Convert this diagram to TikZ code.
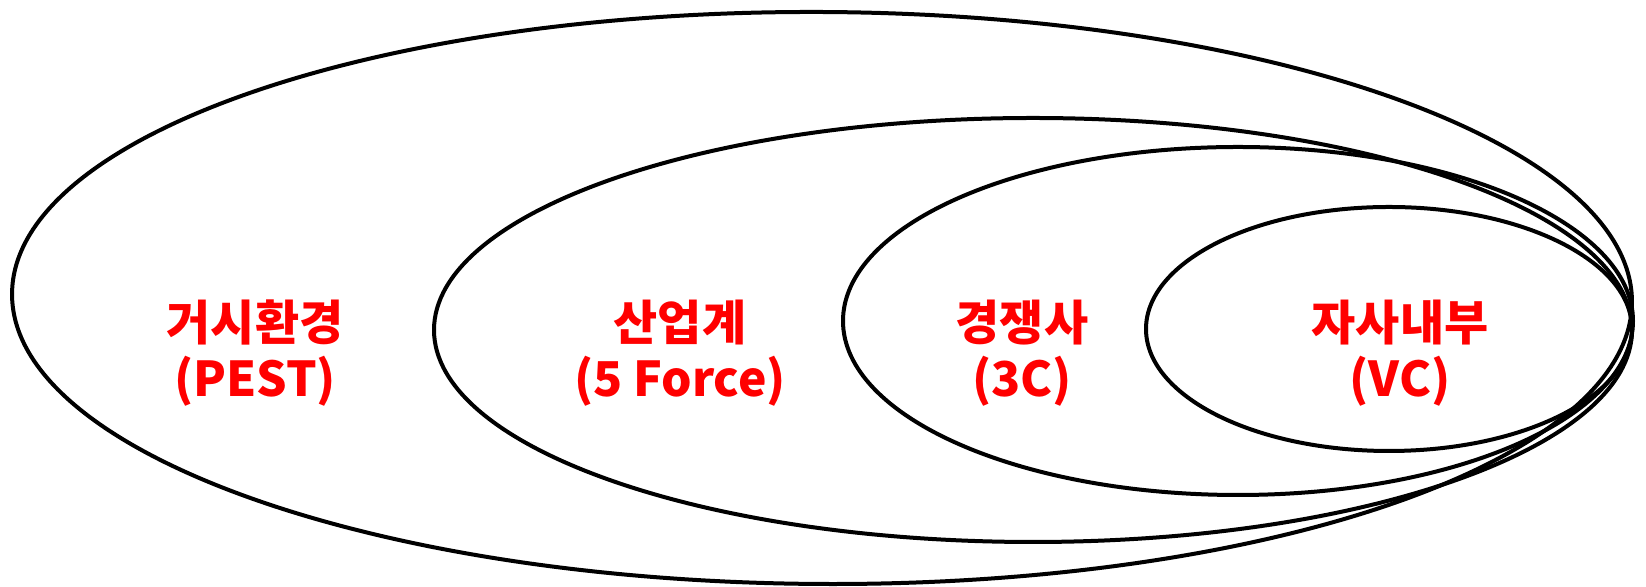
\documentclass[tikz,border=0pt]{standalone}
\usepackage{fontspec}
\newfontfamily\korfont{Noto Sans CJK KR}
\usepackage{tikz}
\usepackage{xcolor}

\tikzset{
    ring/.style = {line width = 2pt, black},
    label/.style = {text = red, font = \korfont\bfseries\fontsize{24}{28}\selectfont, align = center}
}

\begin{document}
\begin{tikzpicture}[x = 0.5pt, y = 0.5pt]
        \useasboundingbox (0,0) rectangle (1646,587);

        \draw[ring, rotate around = {-0.3:(822,289)}] (822,289) ellipse [x radius = 810, y radius = 286];
        \draw[ring] (1033,257) ellipse [x radius = 599, y radius = 212];
        \draw[ring] (1238,266) ellipse [x radius = 395, y radius = 174];
        \draw[ring] (1389,258) ellipse [x radius = 243, y radius = 122];

        \node[label] (pest) at (255,234) {거시환경\\(PEST)};
        \node[label] (force) at (680,234) {산업계\\(5 Force)};
        \node[label] (comp) at (1022,234) {경쟁사\\(3C)};
        \node[label] (vc) at (1400,234) {자사내부\\(VC)};
    \end{tikzpicture}
\end{document}
